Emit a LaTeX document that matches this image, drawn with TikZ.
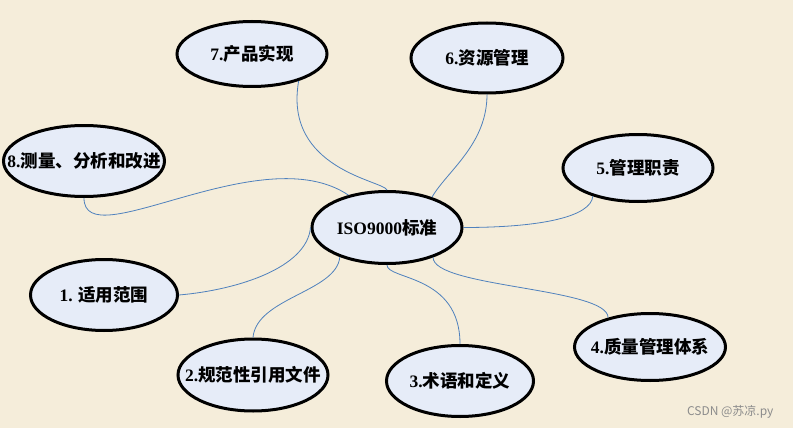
\documentclass[tikz,border=0pt]{standalone}
\usepackage{fontspec}
\setmainfont{Liberation Serif}
\newfontfamily\zh{Noto Sans CJK SC}
\usepackage{tikz}
\usetikzlibrary{shapes.geometric}
\definecolor{paper}{HTML}{F5EDDA}
\definecolor{bubblefill}{HTML}{E6ECF8}
\definecolor{linkblue}{HTML}{4F81BD}
\definecolor{markgray}{HTML}{8C8C8C}
% keep the ellipse size fixed, whatever the text width
\newcommand{\clause}[1]{\makebox[0pt]{#1}}

\begin{document}
\begin{tikzpicture}[
    x=1pt, y=1pt,
    bubble/.style={ellipse, draw=black, line width=3pt, fill=bubblefill, inner sep=0pt, minimum width=150pt, minimum height=68pt, font=\fontsize{17.5}{20}\selectfont\bfseries},
    link/.style={linkblue, line width=0.8pt}
  ]

    % paper background
    \fill[paper] (0,0) rectangle (793,-428);
    \useasboundingbox (0,0) rectangle (793,-428);

    % centre and the eight clauses
    \node[bubble, minimum height=72pt] (iso) at (387,-227.5) {\clause{ISO9000{\zh 标准}}};
    \node[bubble, minimum height=65pt] (product) at (252,-54) {\clause{7.{\zh 产品实现}}};
    \node[bubble, minimum width=152pt, minimum height=70pt] (resource) at (487,-58) {\clause{6.{\zh 资源管理}}};
    \node[bubble, minimum width=161pt, minimum height=71pt] (measure) at (84,-161) {\clause{8.{\zh 测量、分析和改进}}};
    \node[bubble, minimum height=67pt] (mgmt) at (638,-168) {\clause{5.{\zh 管理职责}}};
    \node[bubble, minimum width=151pt, minimum height=67pt] (qms) at (650,-347) {\clause{4.{\zh 质量管理体系}}};
    \node[bubble, minimum width=147pt, minimum height=71pt] (terms) at (460,-381) {\clause{3.{\zh 术语和定义}}};
    \node[bubble, minimum height=72pt] (norm) at (253,-375) {\clause{2.{\zh 规范性引用文件}}};
    \node[bubble, minimum width=147pt, minimum height=71pt] (range) at (104,-295) {\clause{1. {\zh 适用范围}}};

    % links
    \draw[link] (iso.140) to[out=146, in=-90, out distance=105, in distance=60] (measure.south);
    \draw[link] (iso.north) to[out=110, in=-100, out distance=10, in distance=90] (product.-30);
    \draw[link] (iso.34) to[out=60, in=-90, out distance=30, in distance=50] (resource.south);
    \draw[link] (iso.east) to[out=0, in=-95, out distance=80, in distance=20] (mgmt.-148);
    \draw[link] (iso.-33) to[out=-90, in=90, out distance=30, in distance=30] (qms.145);
    \draw[link] (iso.south) to[out=-90, in=90, out distance=15, in distance=70] (terms.north);
    \draw[link] (iso.-148) to[out=-95, in=85, out distance=35, in distance=40] (norm.north);
    \draw[link] (iso.west) to[out=-95, in=5, out distance=40, in distance=60] (range.east);

    % watermark
    \node[anchor=east, text=markgray, font=\zh\fontsize{12}{14}\selectfont] (mark) at (777,-412) {CSDN @苏凉.py};
  \end{tikzpicture}
\end{document}
